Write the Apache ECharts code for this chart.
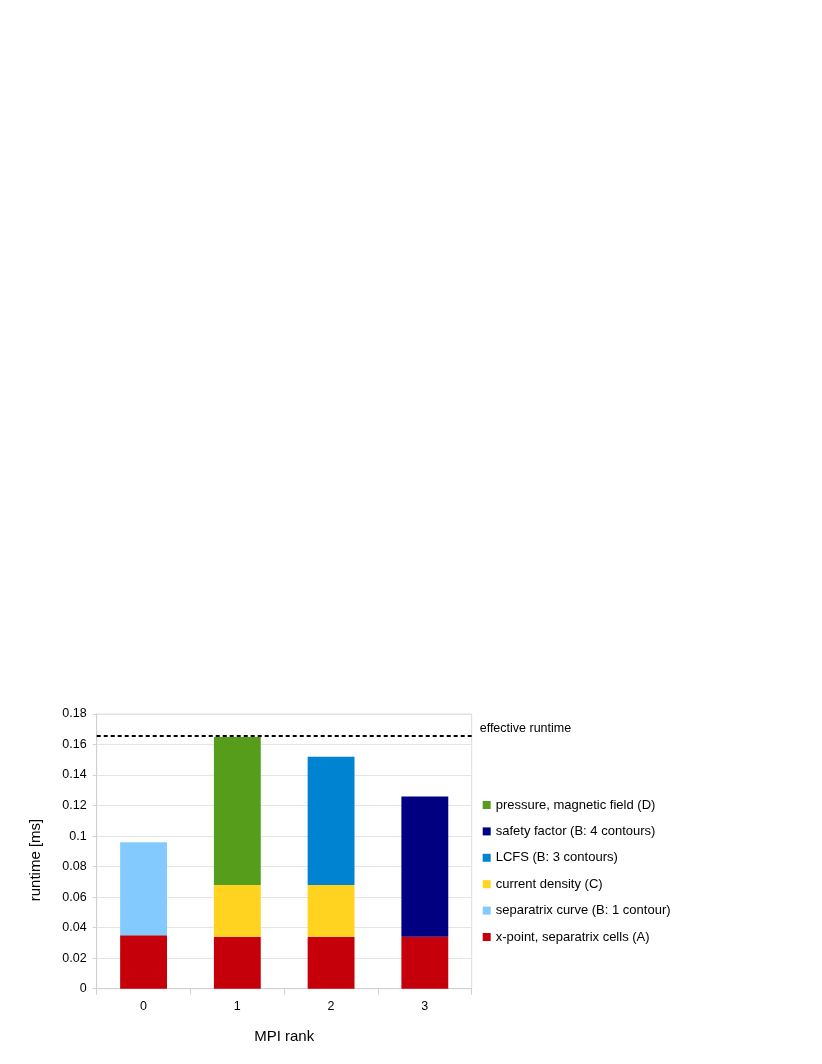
<!DOCTYPE html>
<html>
<head>
<meta charset="utf-8">
<script src="https://cdn.jsdelivr.net/npm/echarts@6/dist/echarts.min.js"></script>
<style>
html,body{margin:0;padding:0;background:#fff;}
#chart{width:822px;height:1064px;}
</style>
</head>
<body>
<div id="chart"></div>
<script>
const categories = ['0', '1', '2', '3'];
const xPoint = [0.035, 0.034, 0.034, 0.034];
const separatrixCurve = [0.061, null, null, null];
const currentDensity = [null, 0.034, 0.034, null];
const lcfs = [null, null, 0.084, null];
const safetyFactor = [null, null, null, 0.092];
const pressure = [null, 0.097, null, null];
const effectiveRuntime = 0.166;

const seriesNames = [
  'x-point, separatrix cells (A)',
  'separatrix curve (B: 1 contour)',
  'current density (C)',
  'LCFS (B: 3 contours)',
  'safety factor (B: 4 contours)',
  'pressure, magnetic field (D)'
];
const seriesData = [xPoint, separatrixCurve, currentDensity, lcfs, safetyFactor, pressure];
const colors = ['#c5000b', '#83caff', '#ffd320', '#0084d1', '#000080', '#579d1c'];

const FONT = '"Liberation Sans", Arial, sans-serif';
const chart = echarts.init(document.getElementById('chart'), null, {renderer: 'canvas'});

const series = seriesNames.map((name, i) => ({
  name: name,
  type: 'bar',
  stack: 'total',
  barWidth: '50%',
  data: seriesData[i],
  itemStyle: {color: colors[i]},
  emphasis: {disabled: true},
  animation: false
}));
series.push({
  name: 'effective runtime',
  type: 'line',
  data: [],
  silent: true,
  animation: false,
  markLine: {
    symbol: 'none',
    silent: true,
    animation: false,
    precision: 6,
    lineStyle: {color: '#000', type: [4, 3], width: 2},
    label: {
      show: true,
      position: 'end',
      distance: 8,
      verticalAlign: 'bottom',
      formatter: 'effective runtime',
      color: '#000',
      fontFamily: FONT,
      fontSize: 12.5
    },
    data: [{yAxis: effectiveRuntime}]
  }
});

chart.setOption({
  animation: false,
  backgroundColor: '#fff',
  grid: {
    left: 96.7, right: 350.3, top: 714, bottom: 75.3,
    show: true, borderColor: '#dddddd', borderWidth: 1, backgroundColor: 'transparent'
  },
  legend: {
    orient: 'vertical',
    left: 482.7,
    top: 797,
    padding: 0,
    itemWidth: 8,
    itemHeight: 8,
    itemGap: 10.4,
    icon: 'rect',
    data: seriesNames.slice().reverse(),
    textStyle: {fontFamily: FONT, fontSize: 13, color: '#000', lineHeight: 16},
    selectedMode: false
  },
  xAxis: {
    type: 'category',
    data: categories,
    name: 'MPI rank',
    nameLocation: 'middle',
    nameGap: 41,
    nameTextStyle: {fontFamily: FONT, fontSize: 15, color: '#000'},
    axisLine: {lineStyle: {color: '#d0d0d0'}},
    axisTick: {show: true, length: 6, lineStyle: {color: '#d0d0d0'}},
    axisLabel: {fontFamily: FONT, fontSize: 12.5, color: '#000', margin: 11}
  },
  yAxis: {
    type: 'value',
    min: 0,
    max: 0.18,
    interval: 0.02,
    axisLine: {show: true, lineStyle: {color: '#d0d0d0'}},
    axisTick: {show: true, length: 4, lineStyle: {color: '#d0d0d0'}},
    splitLine: {show: true, lineStyle: {color: '#e4e4e4'}},
    axisLabel: {
      fontFamily: FONT, fontSize: 12.5, color: '#000', margin: 10,
      formatter: v => String(parseFloat(v.toFixed(4)))
    }
  },
  graphic: [{
    type: 'text',
    x: 36,
    y: 860,
    rotation: Math.PI / 2,
    style: {
      text: 'runtime [ms]',
      fontFamily: FONT,
      fontSize: 15,
      fill: '#000',
      align: 'center',
      verticalAlign: 'middle'
    }
  }],
  series: series
});
</script>
</body>
</html>
